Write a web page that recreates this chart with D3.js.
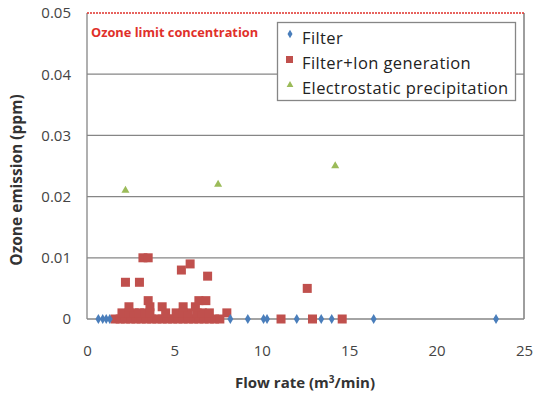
<!DOCTYPE html>
<html><head><meta charset="utf-8">
<script src="https://cdn.jsdelivr.net/npm/d3@7"></script>
<style>body{margin:0;background:#fff}svg{display:block}</style>
</head><body>
<svg id="c" width="535" height="398"></svg>
<script>
const xTicks = [0,5,10,15,20,25];
const yTicks = [0,0.01,0.02,0.03,0.04,0.05];
const yTickLabels = ["0","0.01","0.02","0.03","0.04","0.05"];
const seriesNames = ["Filter","Filter+Ion generation","Electrostatic precipitation"];
const filterX = [0.65,0.9,1.1,1.3,8.2,9.2,10.1,10.3,12.0,13.4,14.0,16.4,23.4];
const filterY = [0,0,0,0,0,0,0,0,0,0,0,0,0];
const ionX = [1.6,1.9,2.2,2.5,2.8,3.1,3.4,3.7,4.0,4.3,4.6,4.9,5.2,5.5,5.8,6.1,6.4,6.7,7.0,7.3,7.6,11.1,12.9,14.6,
  2.0,2.4,2.7,3.0,3.3,3.6,4.5,5.1,5.5,5.8,6.3,6.6,7.0,8.0,
  2.4,3.6,4.3,5.5,6.2,3.5,6.4,6.8,2.2,3.0,3.2,3.5,5.4,5.9,6.9,12.6];
const ionY = [0,0,0,0,0,0,0,0,0,0,0,0,0,0,0,0,0,0,0,0,0,0,0,0,
  0.001,0.001,0.001,0.001,0.001,0.001,0.001,0.001,0.001,0.001,0.001,0.001,0.001,0.001,
  0.002,0.002,0.002,0.002,0.002,0.003,0.003,0.003,0.006,0.006,0.01,0.01,0.008,0.009,0.007,0.005];
const espX = [2.2,7.5,14.2];
const espY = [0.021,0.022,0.025];
const limitLabel = "Ozone limit concentration";

const svg = d3.select("#c");
const L=87,R=524,T=13,B=319;
const x = d3.scaleLinear().domain([0,25]).range([L,R]);
const y = d3.scaleLinear().domain([0,0.05]).range([B,T]);
const font = "'Open Sans', sans-serif";

// grid
svg.append("g").selectAll("line").data(yTicks.filter(v=>v>0&&v<0.05)).join("line")
  .attr("x1",L).attr("x2",R).attr("y1",d=>y(d)).attr("y2",d=>y(d))
  .attr("stroke","#868686").attr("stroke-width",1.3);
// borders
svg.append("line").attr("x1",L).attr("x2",L).attr("y1",T).attr("y2",B).attr("stroke","#868686").attr("stroke-width",1.3);
svg.append("line").attr("x1",R).attr("x2",R).attr("y1",T).attr("y2",B).attr("stroke","#868686").attr("stroke-width",1.6);
svg.append("line").attr("x1",L).attr("x2",R).attr("y1",B).attr("y2",B).attr("stroke","#868686").attr("stroke-width",1.6);
svg.append("line").attr("x1",L).attr("x2",R).attr("y1",y(0.05)).attr("y2",y(0.05)).attr("stroke","#e0302a").attr("stroke-width",1.5).attr("stroke-dasharray","2,1");

// axes
const xa = svg.append("g").attr("transform",`translate(0,${B})`).call(d3.axisBottom(x).tickValues(xTicks).tickSize(0).tickPadding(26).tickFormat(d3.format("d")));
xa.select(".domain").remove();
xa.selectAll("text").attr("font-family",font).attr("font-size",15).attr("fill","#444");
const ya = svg.append("g").attr("transform",`translate(${L},0)`).call(d3.axisLeft(y).tickValues(yTicks).tickSize(0).tickPadding(16).tickFormat((d,i)=>yTickLabels[i]));
ya.select(".domain").remove();
ya.selectAll("text").attr("font-family",font).attr("font-size",15).attr("fill","#444");

svg.append("text").attr("x",305).attr("y",388).attr("text-anchor","middle").attr("font-family",font).attr("font-weight","bold").attr("font-size",15).attr("fill","#333")
  .html("Flow rate (m<tspan dy='-5' font-size='10'>3</tspan><tspan dy='5'>/min)</tspan>");
svg.append("text").attr("transform","translate(22,180) rotate(-90)").attr("text-anchor","middle").attr("font-family",font).attr("font-weight","bold").attr("font-size",15.5).attr("fill","#333").text("Ozone emission (ppm)");

svg.append("text").attr("x",91).attr("y",37).attr("font-family",font).attr("font-weight","bold").attr("font-size",12.8).attr("fill","#e0302a").text(limitLabel);

// points
const blue="#4a7ebb", red="#c0504d", green="#9bbb59";
const fData = filterX.map((v,i)=>[v,filterY[i]]);
const iData = ionX.map((v,i)=>[v,ionY[i]]);
const eData = espX.map((v,i)=>[v,espY[i]]);
svg.append("g").selectAll("rect").data(iData).join("rect")
  .attr("x",d=>x(d[0])-4.5).attr("y",d=>y(d[1])-4.5).attr("width",9).attr("height",9).attr("fill",red);
svg.append("g").selectAll("path").data(fData).join("path")
  .attr("transform",d=>`translate(${x(d[0])},${y(d[1])})`)
  .attr("d",d3.symbol(d3.symbolDiamond,30)()).attr("fill",blue);
svg.append("g").selectAll("path").data(eData).join("path")
  .attr("transform",d=>`translate(${x(d[0])},${y(d[1])})`)
  .attr("d",d3.symbol(d3.symbolTriangle,28)()).attr("fill",green);

// legend
const lg = svg.append("g");
lg.append("rect").attr("x",277.5).attr("y",22.5).attr("width",238).attr("height",78).attr("fill","#fff").attr("stroke","#868686").attr("stroke-width",1.3);
const ly=[38,63,88];
seriesNames.forEach((n,i)=>{
  const cy=ly[i]-1;
  if(i===0) lg.append("path").attr("transform",`translate(290,${cy-3})`).attr("d",d3.symbol(d3.symbolDiamond,22)()).attr("fill",blue);
  if(i===1) lg.append("rect").attr("x",286).attr("y",cy-6).attr("width",7).attr("height",7).attr("fill",red);
  if(i===2) lg.append("path").attr("transform",`translate(290,${cy-2})`).attr("d",d3.symbol(d3.symbolTriangle,20)()).attr("fill",green);
  lg.append("text").attr("x",302).attr("y",ly[i]+6).attr("font-family",font).attr("font-size",16.5).attr("letter-spacing",0.4).attr("fill","#222").text(n);
});
</script>
</body></html>
